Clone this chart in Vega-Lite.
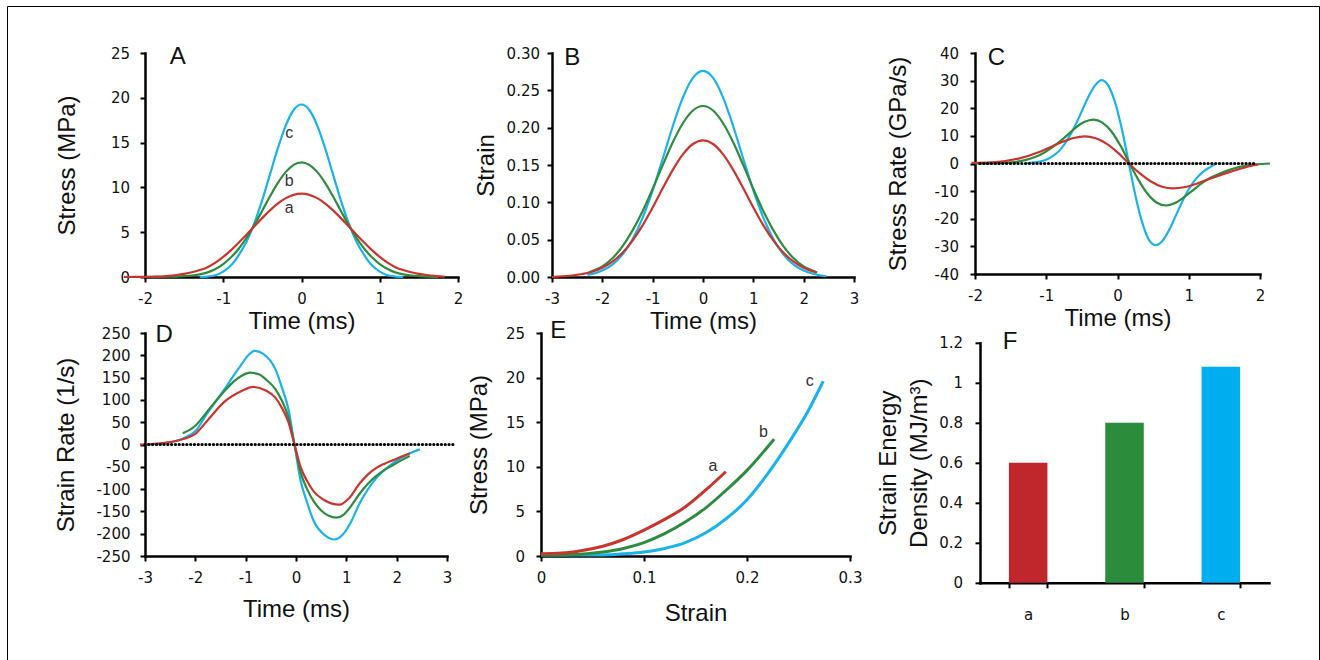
{
 "$schema": "https://vega.github.io/schema/vega-lite/v6.json",
 "background": "white",
 "padding": {"left": 6, "top": 5, "right": 0, "bottom": 0},
 "datasets": {
  "A": [
   {"t":-1.3,"v":0,"s":"c"},{"t":-1.2,"v":0.05,"s":"c"},{"t":-1.1,"v":0.2,"s":"c"},{"t":-1.0,"v":0.6,"s":"c"},{"t":-0.9,"v":1.3,"s":"c"},{"t":-0.8,"v":2.48,"s":"c"},{"t":-0.7,"v":4.0,"s":"c"},{"t":-0.6,"v":6.07,"s":"c"},{"t":-0.5,"v":8.64,"s":"c"},{"t":-0.4,"v":11.53,"s":"c"},{"t":-0.3,"v":14.43,"s":"c"},{"t":-0.2,"v":16.93,"s":"c"},{"t":-0.1,"v":18.64,"s":"c"},{"t":0,"v":19.25,"s":"c"},{"t":0.1,"v":18.64,"s":"c"},{"t":0.2,"v":16.93,"s":"c"},{"t":0.3,"v":14.43,"s":"c"},{"t":0.4,"v":11.53,"s":"c"},{"t":0.5,"v":8.64,"s":"c"},{"t":0.6,"v":6.07,"s":"c"},{"t":0.7,"v":4.0,"s":"c"},{"t":0.8,"v":2.48,"s":"c"},{"t":0.9,"v":1.3,"s":"c"},{"t":1.0,"v":0.6,"s":"c"},{"t":1.1,"v":0.2,"s":"c"},{"t":1.2,"v":0.05,"s":"c"},{"t":1.3,"v":0,"s":"c"},
   {"t":-2.0,"v":0,"s":"b"},{"t":-1.8,"v":0.02,"s":"b"},{"t":-1.6,"v":0.04,"s":"b"},{"t":-1.5,"v":0.09,"s":"b"},{"t":-1.4,"v":0.17,"s":"b"},{"t":-1.3,"v":0.3,"s":"b"},{"t":-1.2,"v":0.52,"s":"b"},{"t":-1.1,"v":0.9,"s":"b"},{"t":-1.0,"v":1.45,"s":"b"},{"t":-0.9,"v":2.2,"s":"b"},{"t":-0.8,"v":3.18,"s":"b"},{"t":-0.7,"v":4.41,"s":"b"},{"t":-0.6,"v":5.85,"s":"b"},{"t":-0.5,"v":7.43,"s":"b"},{"t":-0.4,"v":9.04,"s":"b"},{"t":-0.3,"v":10.53,"s":"b"},{"t":-0.2,"v":11.73,"s":"b"},{"t":-0.1,"v":12.52,"s":"b"},{"t":0,"v":12.8,"s":"b"},{"t":0.1,"v":12.52,"s":"b"},{"t":0.2,"v":11.73,"s":"b"},{"t":0.3,"v":10.53,"s":"b"},{"t":0.4,"v":9.04,"s":"b"},{"t":0.5,"v":7.43,"s":"b"},{"t":0.6,"v":5.85,"s":"b"},{"t":0.7,"v":4.41,"s":"b"},{"t":0.8,"v":3.18,"s":"b"},{"t":0.9,"v":2.2,"s":"b"},{"t":1.0,"v":1.45,"s":"b"},{"t":1.1,"v":0.9,"s":"b"},{"t":1.2,"v":0.52,"s":"b"},{"t":1.3,"v":0.3,"s":"b"},{"t":1.4,"v":0.17,"s":"b"},{"t":1.5,"v":0.09,"s":"b"},{"t":1.6,"v":0.04,"s":"b"},{"t":1.75,"v":0,"s":"b"},
   {"t":-2.27,"v":0,"s":"a"},{"t":-2.0,"v":0.02,"s":"a"},{"t":-1.9,"v":0.03,"s":"a"},{"t":-1.8,"v":0.05,"s":"a"},{"t":-1.7,"v":0.12,"s":"a"},{"t":-1.6,"v":0.22,"s":"a"},{"t":-1.5,"v":0.35,"s":"a"},{"t":-1.4,"v":0.53,"s":"a"},{"t":-1.3,"v":0.78,"s":"a"},{"t":-1.2,"v":1.1,"s":"a"},{"t":-1.1,"v":1.6,"s":"a"},{"t":-1.0,"v":2.25,"s":"a"},{"t":-0.9,"v":3.0,"s":"a"},{"t":-0.8,"v":3.85,"s":"a"},{"t":-0.7,"v":4.75,"s":"a"},{"t":-0.6,"v":5.68,"s":"a"},{"t":-0.5,"v":6.6,"s":"a"},{"t":-0.4,"v":7.47,"s":"a"},{"t":-0.3,"v":8.22,"s":"a"},{"t":-0.2,"v":8.8,"s":"a"},{"t":-0.1,"v":9.17,"s":"a"},{"t":0,"v":9.3,"s":"a"},{"t":0.1,"v":9.17,"s":"a"},{"t":0.2,"v":8.8,"s":"a"},{"t":0.3,"v":8.22,"s":"a"},{"t":0.4,"v":7.47,"s":"a"},{"t":0.5,"v":6.6,"s":"a"},{"t":0.6,"v":5.68,"s":"a"},{"t":0.7,"v":4.75,"s":"a"},{"t":0.8,"v":3.85,"s":"a"},{"t":0.9,"v":3.0,"s":"a"},{"t":1.0,"v":2.25,"s":"a"},{"t":1.1,"v":1.6,"s":"a"},{"t":1.2,"v":1.1,"s":"a"},{"t":1.3,"v":0.78,"s":"a"},{"t":1.4,"v":0.53,"s":"a"},{"t":1.5,"v":0.35,"s":"a"},{"t":1.6,"v":0.22,"s":"a"},{"t":1.7,"v":0.12,"s":"a"},{"t":1.8,"v":0.05,"s":"a"},{"t":1.83,"v":0.03,"s":"a"}
  ],
  "B": [
   {"t":-2.3,"v":0.003,"s":"c"},{"t":-2.2,"v":0.004,"s":"c"},{"t":-2.0,"v":0.0086,"s":"c"},{"t":-1.8,"v":0.0166,"s":"c"},{"t":-1.6,"v":0.03,"s":"c"},{"t":-1.4,"v":0.0504,"s":"c"},{"t":-1.2,"v":0.0791,"s":"c"},{"t":-1.0,"v":0.1159,"s":"c"},{"t":-0.8,"v":0.1584,"s":"c"},{"t":-0.6,"v":0.2019,"s":"c"},{"t":-0.4,"v":0.2402,"s":"c"},{"t":-0.2,"v":0.2666,"s":"c"},{"t":0,"v":0.276,"s":"c"},{"t":0.2,"v":0.2666,"s":"c"},{"t":0.4,"v":0.2402,"s":"c"},{"t":0.6,"v":0.2019,"s":"c"},{"t":0.8,"v":0.1584,"s":"c"},{"t":1.0,"v":0.1159,"s":"c"},{"t":1.2,"v":0.0791,"s":"c"},{"t":1.4,"v":0.0504,"s":"c"},{"t":1.6,"v":0.03,"s":"c"},{"t":1.8,"v":0.0166,"s":"c"},{"t":2.0,"v":0.0086,"s":"c"},{"t":2.2,"v":0.004,"s":"c"},{"t":2.45,"v":0.001,"s":"c"},
   {"t":-2.27,"v":0.006,"s":"b"},{"t":-2.2,"v":0.008,"s":"b"},{"t":-2.0,"v":0.014,"s":"b"},{"t":-1.8,"v":0.025,"s":"b"},{"t":-1.6,"v":0.041,"s":"b"},{"t":-1.4,"v":0.0624,"s":"b"},{"t":-1.2,"v":0.0881,"s":"b"},{"t":-1.0,"v":0.118,"s":"b"},{"t":-0.8,"v":0.1498,"s":"b"},{"t":-0.6,"v":0.1804,"s":"b"},{"t":-0.4,"v":0.2059,"s":"b"},{"t":-0.2,"v":0.223,"s":"b"},{"t":0,"v":0.229,"s":"b"},{"t":0.2,"v":0.223,"s":"b"},{"t":0.4,"v":0.2059,"s":"b"},{"t":0.6,"v":0.1804,"s":"b"},{"t":0.8,"v":0.1498,"s":"b"},{"t":1.0,"v":0.118,"s":"b"},{"t":1.2,"v":0.0881,"s":"b"},{"t":1.4,"v":0.0624,"s":"b"},{"t":1.6,"v":0.041,"s":"b"},{"t":1.8,"v":0.025,"s":"b"},{"t":2.0,"v":0.014,"s":"b"},{"t":2.2,"v":0.008,"s":"b"},{"t":2.27,"v":0.006,"s":"b"},
   {"t":-3.0,"v":0,"s":"a"},{"t":-2.8,"v":0.001,"s":"a"},{"t":-2.6,"v":0.002,"s":"a"},{"t":-2.4,"v":0.004,"s":"a"},{"t":-2.2,"v":0.007,"s":"a"},{"t":-2.0,"v":0.0123,"s":"a"},{"t":-1.8,"v":0.0205,"s":"a"},{"t":-1.6,"v":0.0324,"s":"a"},{"t":-1.4,"v":0.0487,"s":"a"},{"t":-1.2,"v":0.0692,"s":"a"},{"t":-1.0,"v":0.0931,"s":"a"},{"t":-0.8,"v":0.1188,"s":"a"},{"t":-0.6,"v":0.1435,"s":"a"},{"t":-0.4,"v":0.1642,"s":"a"},{"t":-0.2,"v":0.1781,"s":"a"},{"t":0,"v":0.183,"s":"a"},{"t":0.2,"v":0.1781,"s":"a"},{"t":0.4,"v":0.1642,"s":"a"},{"t":0.6,"v":0.1435,"s":"a"},{"t":0.8,"v":0.1188,"s":"a"},{"t":1.0,"v":0.0931,"s":"a"},{"t":1.2,"v":0.0692,"s":"a"},{"t":1.4,"v":0.0487,"s":"a"},{"t":1.6,"v":0.0324,"s":"a"},{"t":1.8,"v":0.0205,"s":"a"},{"t":2.0,"v":0.0123,"s":"a"},{"t":2.2,"v":0.007,"s":"a"},{"t":2.25,"v":0.006,"s":"a"}
  ],
  "C": [
   {"t":-1.3,"v":0,"s":"c"},{"t":-1.17,"v":0.38,"s":"c"},{"t":-0.98,"v":1.65,"s":"c"},{"t":-0.79,"v":5.4,"s":"c"},{"t":-0.6,"v":13.4,"s":"c"},{"t":-0.505,"v":18.7,"s":"c"},{"t":-0.41,"v":24.1,"s":"c"},{"t":-0.315,"v":28.3,"s":"c"},{"t":-0.22,"v":30.2,"s":"c"},{"t":-0.125,"v":28.0,"s":"c"},{"t":-0.03,"v":21.8,"s":"c"},{"t":0.065,"v":12.0,"s":"c"},{"t":0.16,"v":0,"s":"c"},{"t":0.255,"v":-12.0,"s":"c"},{"t":0.35,"v":-21.6,"s":"c"},{"t":0.445,"v":-27.8,"s":"c"},{"t":0.54,"v":-29.6,"s":"c"},{"t":0.635,"v":-27.9,"s":"c"},{"t":0.73,"v":-23.8,"s":"c"},{"t":0.825,"v":-18.5,"s":"c"},{"t":0.92,"v":-13.2,"s":"c"},{"t":1.015,"v":-8.7,"s":"c"},{"t":1.11,"v":-5.3,"s":"c"},{"t":1.2,"v":-3.0,"s":"c"},{"t":1.3,"v":-1.3,"s":"c"},{"t":1.37,"v":-0.3,"s":"c"},
   {"t":-2.0,"v":0.02,"s":"b"},{"t":-1.87,"v":0.035,"s":"b"},{"t":-1.615,"v":0.2,"s":"b"},{"t":-1.36,"v":0.87,"s":"b"},{"t":-1.105,"v":2.88,"s":"b"},{"t":-0.85,"v":7.1,"s":"b"},{"t":-0.72,"v":9.9,"s":"b"},{"t":-0.595,"v":12.8,"s":"b"},{"t":-0.4675,"v":15.0,"s":"b"},{"t":-0.34,"v":15.9,"s":"b"},{"t":-0.2125,"v":14.8,"s":"b"},{"t":-0.085,"v":11.6,"s":"b"},{"t":0.0425,"v":6.4,"s":"b"},{"t":0.17,"v":0,"s":"b"},{"t":0.2975,"v":-6.1,"s":"b"},{"t":0.425,"v":-11.05,"s":"b"},{"t":0.5525,"v":-14.2,"s":"b"},{"t":0.68,"v":-15.2,"s":"b"},{"t":0.8075,"v":-14.3,"s":"b"},{"t":0.935,"v":-12.2,"s":"b"},{"t":1.0625,"v":-9.6,"s":"b"},{"t":1.19,"v":-7.0,"s":"b"},{"t":1.32,"v":-5.0,"s":"b"},{"t":1.445,"v":-3.5,"s":"b"},{"t":1.57,"v":-2.3,"s":"b"},{"t":1.7,"v":-1.3,"s":"b"},{"t":1.83,"v":-0.7,"s":"b"},{"t":1.955,"v":-0.3,"s":"b"},{"t":2.14,"v":0,"s":"b"},
   {"t":-2.05,"v":0.25,"s":"a"},{"t":-1.7,"v":0.54,"s":"a"},{"t":-1.39,"v":1.77,"s":"a"},{"t":-1.08,"v":4.37,"s":"a"},{"t":-0.925,"v":6.1,"s":"a"},{"t":-0.77,"v":7.87,"s":"a"},{"t":-0.615,"v":9.25,"s":"a"},{"t":-0.46,"v":9.85,"s":"a"},{"t":-0.305,"v":9.14,"s":"a"},{"t":-0.15,"v":7.12,"s":"a"},{"t":0.005,"v":3.92,"s":"a"},{"t":0.16,"v":0,"s":"a"},{"t":0.315,"v":-3.6,"s":"a"},{"t":0.47,"v":-6.54,"s":"a"},{"t":0.625,"v":-8.4,"s":"a"},{"t":0.78,"v":-9.0,"s":"a"},{"t":0.935,"v":-8.6,"s":"a"},{"t":1.09,"v":-7.5,"s":"a"},{"t":1.245,"v":-6.0,"s":"a"},{"t":1.4,"v":-4.6,"s":"a"},{"t":1.55,"v":-3.3,"s":"a"},{"t":1.71,"v":-2.0,"s":"a"},{"t":1.85,"v":-1.0,"s":"a"},{"t":1.97,"v":-0.3,"s":"a"}
  ],
  "D": [
   {"t":-3.0,"v":0,"s":"c"},{"t":-2.6,"v":3,"s":"c"},{"t":-2.2,"v":16,"s":"c"},{"t":-2.0,"v":30,"s":"c"},{"t":-1.75,"v":72,"s":"c"},{"t":-1.42,"v":124,"s":"c"},{"t":-1.25,"v":153,"s":"c"},{"t":-1.08,"v":180,"s":"c"},{"t":-0.95,"v":200,"s":"c"},{"t":-0.82,"v":210,"s":"c"},{"t":-0.65,"v":203,"s":"c"},{"t":-0.41,"v":169,"s":"c"},{"t":-0.28,"v":128,"s":"c"},{"t":-0.15,"v":79,"s":"c"},{"t":-0.03,"v":0,"s":"c"},{"t":0.09,"v":-80,"s":"c"},{"t":0.22,"v":-130,"s":"c"},{"t":0.35,"v":-171,"s":"c"},{"t":0.59,"v":-205,"s":"c"},{"t":0.76,"v":-213,"s":"c"},{"t":0.93,"v":-202,"s":"c"},{"t":1.1,"v":-172,"s":"c"},{"t":1.26,"v":-133,"s":"c"},{"t":1.42,"v":-102,"s":"c"},{"t":1.59,"v":-76,"s":"c"},{"t":1.76,"v":-57,"s":"c"},{"t":1.93,"v":-42,"s":"c"},{"t":2.2,"v":-23,"s":"c"},{"t":2.46,"v":-11,"s":"c"},
   {"t":-2.25,"v":25,"s":"b"},{"t":-2.0,"v":42,"s":"b"},{"t":-1.75,"v":76,"s":"b"},{"t":-1.42,"v":120,"s":"b"},{"t":-1.25,"v":140,"s":"b"},{"t":-1.08,"v":154,"s":"b"},{"t":-0.92,"v":161,"s":"b"},{"t":-0.75,"v":158,"s":"b"},{"t":-0.6,"v":146,"s":"b"},{"t":-0.41,"v":124,"s":"b"},{"t":-0.28,"v":98,"s":"b"},{"t":-0.15,"v":61,"s":"b"},{"t":-0.03,"v":0,"s":"b"},{"t":0.09,"v":-62,"s":"b"},{"t":0.22,"v":-100,"s":"b"},{"t":0.35,"v":-127,"s":"b"},{"t":0.5,"v":-148,"s":"b"},{"t":0.65,"v":-160,"s":"b"},{"t":0.8,"v":-164,"s":"b"},{"t":0.95,"v":-157,"s":"b"},{"t":1.1,"v":-137,"s":"b"},{"t":1.26,"v":-111,"s":"b"},{"t":1.42,"v":-89,"s":"b"},{"t":1.59,"v":-71,"s":"b"},{"t":1.76,"v":-57,"s":"b"},{"t":1.93,"v":-46,"s":"b"},{"t":2.1,"v":-35,"s":"b"},{"t":2.26,"v":-26,"s":"b"},
   {"t":-3.1,"v":0,"s":"a"},{"t":-2.6,"v":4,"s":"a"},{"t":-2.22,"v":13,"s":"a"},{"t":-2.0,"v":24,"s":"a"},{"t":-1.75,"v":55,"s":"a"},{"t":-1.42,"v":96,"s":"a"},{"t":-1.08,"v":120,"s":"a"},{"t":-0.85,"v":129,"s":"a"},{"t":-0.6,"v":121,"s":"a"},{"t":-0.41,"v":105,"s":"a"},{"t":-0.28,"v":82,"s":"a"},{"t":-0.15,"v":50,"s":"a"},{"t":-0.03,"v":0,"s":"a"},{"t":0.09,"v":-50,"s":"a"},{"t":0.22,"v":-82,"s":"a"},{"t":0.35,"v":-105,"s":"a"},{"t":0.55,"v":-124,"s":"a"},{"t":0.7,"v":-132,"s":"a"},{"t":0.86,"v":-135,"s":"a"},{"t":1.05,"v":-121,"s":"a"},{"t":1.26,"v":-88,"s":"a"},{"t":1.42,"v":-68,"s":"a"},{"t":1.59,"v":-53,"s":"a"},{"t":1.76,"v":-43,"s":"a"},{"t":1.93,"v":-35,"s":"a"},{"t":2.1,"v":-27,"s":"a"},{"t":2.26,"v":-20,"s":"a"}
  ],
  "E": [
   {"t":0,"v":0.1,"s":"c"},{"t":0.03,"v":0.1,"s":"c"},{"t":0.06,"v":0.12,"s":"c"},{"t":0.08,"v":0.25,"s":"c"},{"t":0.1,"v":0.45,"s":"c"},{"t":0.12,"v":0.85,"s":"c"},{"t":0.14,"v":1.5,"s":"c"},{"t":0.16,"v":2.6,"s":"c"},{"t":0.18,"v":4.2,"s":"c"},{"t":0.2,"v":6.3,"s":"c"},{"t":0.22,"v":9.2,"s":"c"},{"t":0.24,"v":12.6,"s":"c"},{"t":0.26,"v":16.4,"s":"c"},{"t":0.274,"v":19.6,"s":"c"},
   {"t":0,"v":0.1,"s":"b"},{"t":0.03,"v":0.15,"s":"b"},{"t":0.06,"v":0.45,"s":"b"},{"t":0.08,"v":0.85,"s":"b"},{"t":0.1,"v":1.5,"s":"b"},{"t":0.12,"v":2.5,"s":"b"},{"t":0.14,"v":3.8,"s":"b"},{"t":0.16,"v":5.4,"s":"b"},{"t":0.18,"v":7.4,"s":"b"},{"t":0.2,"v":9.6,"s":"b"},{"t":0.2263,"v":13.1,"s":"b"},
   {"t":0,"v":0.25,"s":"a"},{"t":0.02,"v":0.33,"s":"a"},{"t":0.04,"v":0.62,"s":"a"},{"t":0.06,"v":1.1,"s":"a"},{"t":0.08,"v":1.85,"s":"a"},{"t":0.1,"v":2.9,"s":"a"},{"t":0.12,"v":4.1,"s":"a"},{"t":0.14,"v":5.5,"s":"a"},{"t":0.16,"v":7.4,"s":"a"},{"t":0.1794,"v":9.45,"s":"a"}
  ],
  "F": [{"s":"a","v":0.6},{"s":"b","v":0.8},{"s":"c","v":1.08}],
  "ZC": [{"t":-1.93,"v":0},{"t":1.95,"v":0}],
  "ZD": [{"t":-3.0,"v":0},{"t":3.13,"v":0}]
 },
 "spacing": -39.2,
 "vconcat": [
  {
   "spacing": 0,
   "hconcat": [
    {
     "width": 313, "height": 224,
     "layer": [
      {"data": {"name": "A"}, "mark": {"type": "line", "interpolate": "monotone", "strokeWidth": 2.2},
       "encoding": {
        "x": {"field": "t", "type": "quantitative", "scale": {"domain": [-2, 2], "nice": false, "zero": false}, "axis": {"values": [-2, -1, 0, 1, 2], "tickCount": 50, "labelExpr": "'' + datum.value", "title": "Time (ms)", "titlePadding": 3, "labelOverlap": false, "labelFlush": false}},
        "y": {"field": "v", "type": "quantitative", "scale": {"domain": [0, 25], "nice": false}, "axis": {"values": [0, 5, 10, 15, 20, 25], "tickCount": 50, "labelExpr": "'' + datum.value", "title": "Stress (MPa)", "titlePadding": 65.7, "labelPadding": 10.5, "labelOverlap": false}},
        "color": {"field": "s", "type": "nominal", "scale": {"domain": ["a", "b", "c"], "range": ["#C8352F", "#2E8B3F", "#1AB2EB"]}, "legend": null}
       }},
      {"data": {"values": [{"label": "A"}]}, "mark": {"type": "text", "font": "Liberation Sans", "fontSize": 24, "color": "#111"}, "encoding": {"text": {"field": "label"}, "x": {"datum": -1.58}, "y": {"datum": 24.5}}},
      {"data": {"values": [{"label": "c"}]}, "mark": {"type": "text", "font": "Liberation Sans", "fontSize": 16, "color": "#333"}, "encoding": {"text": {"field": "label"}, "x": {"datum": -0.156}, "y": {"datum": 16.1}}},
      {"data": {"values": [{"label": "b"}]}, "mark": {"type": "text", "font": "Liberation Sans", "fontSize": 16, "color": "#333"}, "encoding": {"text": {"field": "label"}, "x": {"datum": -0.156}, "y": {"datum": 10.7}}},
      {"data": {"values": [{"label": "a"}]}, "mark": {"type": "text", "font": "Liberation Sans", "fontSize": 16, "color": "#333"}, "encoding": {"text": {"field": "label"}, "x": {"datum": -0.156}, "y": {"datum": 7.7}}}
     ]
    },
    {"width": 11, "height": 1, "data": {"name": "F"}, "mark": {"type": "point", "opacity": 0}, "encoding": {}},
    {
     "width": 302, "height": 224,
     "layer": [
      {"data": {"name": "B"}, "mark": {"type": "line", "interpolate": "monotone", "strokeWidth": 2.2},
       "encoding": {
        "x": {"field": "t", "type": "quantitative", "scale": {"domain": [-3, 3], "nice": false, "zero": false}, "axis": {"values": [-3, -2, -1, 0, 1, 2, 3], "tickCount": 50, "labelExpr": "'' + datum.value", "title": "Time (ms)", "titlePadding": 3, "labelOverlap": false, "labelFlush": false}},
        "y": {"field": "v", "type": "quantitative", "scale": {"domain": [0, 0.3], "nice": false}, "axis": {"values": [0, 0.05, 0.1, 0.15, 0.2, 0.25, 0.3], "tickCount": 50, "format": ".2f", "title": "Strain", "titlePadding": 54, "labelPadding": 7.5, "labelOverlap": false}},
        "color": {"field": "s", "type": "nominal", "scale": {"domain": ["a", "b", "c"], "range": ["#C8352F", "#2E8B3F", "#1AB2EB"]}, "legend": null}
       }},
      {"data": {"values": [{"label": "B"}]}, "mark": {"type": "text", "font": "Liberation Sans", "fontSize": 24, "color": "#111"}, "encoding": {"text": {"field": "label"}, "x": {"datum": -2.6}, "y": {"datum": 0.293}}}
     ]
    },
    {"width": 26.5, "height": 1, "data": {"name": "F"}, "mark": {"type": "point", "opacity": 0}, "encoding": {}},
    {
     "width": 285, "height": 221,
     "layer": [
      {"data": {"name": "C"}, "mark": {"type": "line", "interpolate": "monotone", "strokeWidth": 2.2},
       "encoding": {
        "x": {"field": "t", "type": "quantitative", "scale": {"domain": [-2, 2], "nice": false, "zero": false}, "axis": {"values": [-2, -1, 0, 1, 2], "tickCount": 50, "labelExpr": "'' + datum.value", "title": "Time (ms)", "titlePadding": 3, "labelOverlap": false, "labelFlush": false}},
        "y": {"field": "v", "type": "quantitative", "scale": {"domain": [-40, 40], "nice": false}, "axis": {"values": [-40, -30, -20, -10, 0, 10, 20, 30, 40], "tickCount": 50, "labelExpr": "'' + datum.value", "title": "Stress Rate (GPa/s)", "titlePadding": 64.7, "labelPadding": 11.5, "labelOverlap": false}},
        "color": {"field": "s", "type": "nominal", "scale": {"domain": ["a", "b", "c"], "range": ["#C8352F", "#2E8B3F", "#1AB2EB"]}, "legend": null}
       }},
      {"data": {"name": "ZC"}, "mark": {"type": "line", "color": "#000", "strokeWidth": 3.2, "strokeDash": [0.1, 3.7], "strokeCap": "round"},
       "encoding": {"x": {"field": "t", "type": "quantitative"}, "y": {"field": "v", "type": "quantitative"}}},
      {"data": {"values": [{"label": "C"}]}, "mark": {"type": "text", "font": "Liberation Sans", "fontSize": 24, "color": "#111"}, "encoding": {"text": {"field": "label"}, "x": {"datum": -1.7}, "y": {"datum": 38.2}}}
     ]
    }
   ]
  },
  {
   "spacing": 0,
   "hconcat": [
    {
     "width": 302, "height": 223,
     "layer": [
      {"data": {"name": "D"}, "mark": {"type": "line", "interpolate": "monotone", "strokeWidth": 2.2},
       "encoding": {
        "x": {"field": "t", "type": "quantitative", "scale": {"domain": [-3, 3], "nice": false, "zero": false}, "axis": {"values": [-3, -2, -1, 0, 1, 2, 3], "tickCount": 50, "labelExpr": "'' + datum.value", "title": "Time (ms)", "titlePadding": 12.5, "labelOverlap": false, "labelFlush": false}},
        "y": {"field": "v", "type": "quantitative", "scale": {"domain": [-250, 250], "nice": false}, "axis": {"values": [-250, -200, -150, -100, -50, 0, 50, 100, 150, 200, 250], "tickCount": 50, "labelExpr": "'' + datum.value", "title": "Strain Rate (1/s)", "titlePadding": 66.5, "labelPadding": 10, "labelOverlap": false}},
        "color": {"field": "s", "type": "nominal", "scale": {"domain": ["a", "b", "c"], "range": ["#C8352F", "#2E8B3F", "#1AB2EB"]}, "legend": null}
       }},
      {"data": {"name": "ZD"}, "mark": {"type": "line", "color": "#000", "strokeWidth": 3.2, "strokeDash": [0.1, 3.7], "strokeCap": "round"},
       "encoding": {"x": {"field": "t", "type": "quantitative"}, "y": {"field": "v", "type": "quantitative"}}},
      {"data": {"values": [{"label": "D"}]}, "mark": {"type": "text", "font": "Liberation Sans", "fontSize": 24, "color": "#111"}, "encoding": {"text": {"field": "label"}, "x": {"datum": -2.62}, "y": {"datum": 245}}}
     ]
    },
    {"width": 6.3, "height": 1, "data": {"name": "F"}, "mark": {"type": "point", "opacity": 0}, "encoding": {}},
    {
     "width": 309, "height": 223,
     "layer": [
      {"data": {"name": "E"}, "mark": {"type": "line", "interpolate": "monotone", "strokeWidth": 3},
       "encoding": {
        "x": {"field": "t", "type": "quantitative", "scale": {"domain": [0, 0.3], "nice": false, "zero": false}, "axis": {"values": [0, 0.1, 0.2, 0.3], "tickCount": 50, "labelExpr": "'' + datum.value", "title": "Strain", "titlePadding": 16.5, "labelOverlap": false, "labelFlush": false}},
        "y": {"field": "v", "type": "quantitative", "scale": {"domain": [0, 25], "nice": false}, "axis": {"values": [0, 5, 10, 15, 20, 25], "tickCount": 50, "labelExpr": "'' + datum.value", "title": "Stress (MPa)", "titlePadding": 49.7, "labelPadding": 11.5, "labelOverlap": false}},
        "color": {"field": "s", "type": "nominal", "scale": {"domain": ["a", "b", "c"], "range": ["#C8352F", "#2E8B3F", "#1AB2EB"]}, "legend": null}
       }},
      {"data": {"values": [{"label": "E"}]}, "mark": {"type": "text", "font": "Liberation Sans", "fontSize": 24, "color": "#111"}, "encoding": {"text": {"field": "label"}, "x": {"datum": 0.0168}, "y": {"datum": 25.2}}},
      {"data": {"values": [{"label": "a"}]}, "mark": {"type": "text", "font": "Liberation Sans", "fontSize": 16, "color": "#333"}, "encoding": {"text": {"field": "label"}, "x": {"datum": 0.167}, "y": {"datum": 10.1}}},
      {"data": {"values": [{"label": "b"}]}, "mark": {"type": "text", "font": "Liberation Sans", "fontSize": 16, "color": "#333"}, "encoding": {"text": {"field": "label"}, "x": {"datum": 0.216}, "y": {"datum": 13.9}}},
      {"data": {"values": [{"label": "c"}]}, "mark": {"type": "text", "font": "Liberation Sans", "fontSize": 16, "color": "#333"}, "encoding": {"text": {"field": "label"}, "x": {"datum": 0.261}, "y": {"datum": 19.6}}}
     ]
    },
    {"width": 13.7, "height": 1, "data": {"name": "F"}, "mark": {"type": "point", "opacity": 0}, "encoding": {}},
    {
     "spacing": -7.2,
     "vconcat": [
      {"width": 1, "height": 1, "data": {"name": "F"}, "mark": {"type": "point", "opacity": 0}, "encoding": {}},
      {
       "width": 289, "height": 240,
       "layer": [
        {"data": {"name": "F"}, "mark": {"type": "bar"},
         "encoding": {
          "x": {"field": "s", "type": "nominal", "scale": {"paddingInner": 0.6, "paddingOuter": 0.3}, "axis": {"title": null, "labelAngle": 0, "tickBand": "extent", "labelPadding": 20, "labelOverlap": false}},
          "y": {"field": "v", "type": "quantitative", "scale": {"domain": [0, 1.2], "nice": false}, "axis": {"values": [0, 0.2, 0.4, 0.6, 0.8, 1, 1.2], "tickCount": 50, "labelExpr": "'' + datum.value", "title": ["Strain Energy", "Density (MJ/m³)"], "titleLineHeight": 31, "titlePadding": 48.4, "labelPadding": 12.5, "labelOverlap": false}},
          "fill": {"field": "s", "type": "nominal", "scale": {"domain": ["a", "b", "c"], "range": ["#C0272D", "#2B8D3C", "#00ADEF"]}, "legend": null}
         }},
        {"data": {"name": "F"}, "mark": {"type": "text", "text": ""},
         "encoding": {"stroke": {"field": "v", "type": "quantitative", "legend": {"orient": "none", "legendX": -138, "legendY": -47, "direction": "horizontal", "gradientLength": 1312, "gradientThickness": 661, "gradientOpacity": 0, "gradientStrokeWidth": 0, "values": [], "title": null, "padding": 0, "strokeColor": "#000", "labelOpacity": 0}}}},
        {"data": {"values": [{"label": "F"}]}, "mark": {"type": "text", "font": "Liberation Sans", "fontSize": 24, "color": "#111", "dx": -18}, "encoding": {"text": {"field": "label"}, "x": {"datum": "a"}, "y": {"datum": 1.2035}}}
       ]
      }
     ]
    }
   ]
  }
 ],
 "config": {
  "view": {"stroke": null},
  "axis": {"domainColor": "#000", "domainWidth": 2.5, "domainCap": "square", "tickColor": "#000", "tickWidth": 2, "tickSize": 5, "labelFont": "DejaVu Sans", "labelFontSize": 15, "labelColor": "#111", "titleFont": "Liberation Sans", "titleFontSize": 24, "titleFontWeight": "normal", "titleColor": "#111", "grid": false, "labelFlush": false, "labelOverlap": false, "labelPadding": 9, "titlePadding": 9},
  "axisY": {"minExtent": 0, "maxExtent": 0}
 }
}
